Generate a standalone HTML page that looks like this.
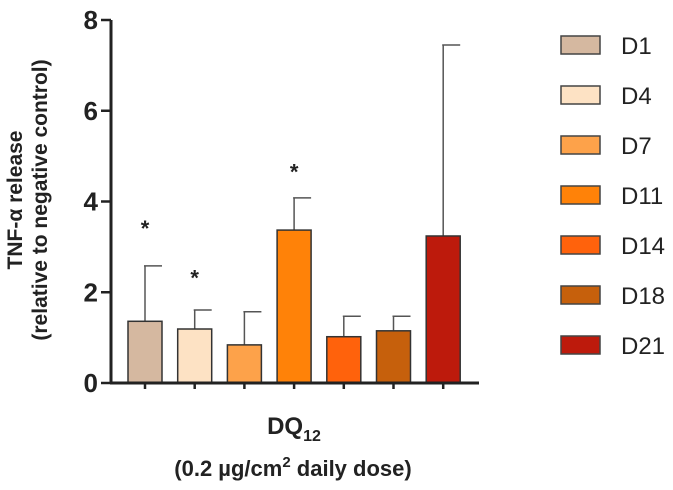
<!DOCTYPE html>
<html><head><meta charset="utf-8"><style>
html,body{margin:0;padding:0;background:#fff;}
svg{display:block;font-family:"Liberation Sans",Arial,sans-serif;}
</style></head><body>
<svg id="chart" width="673" height="490" viewBox="0 0 673 490">
  <text transform="translate(22,200) rotate(-90)" text-anchor="middle" font-size="21" font-weight="bold" fill="#222">TNF-α release</text>
  <text transform="translate(47,200) rotate(-90)" text-anchor="middle" font-size="21" font-weight="bold" fill="#222">(relative to negative control)</text>
  <text x="294" y="434" text-anchor="middle" font-size="24" font-weight="bold" fill="#222">DQ<tspan font-size="16" dy="7">12</tspan></text>
  <text x="293" y="476" text-anchor="middle" font-size="22" font-weight="bold" fill="#222">(0.2 µg/cm<tspan font-size="15" dy="-9">2</tspan><tspan dy="9"> daily dose)</tspan></text>
</svg>
<script>
const categories = ["D1","D4","D7","D11","D14","D18","D21"];
const means = [1.36, 1.19, 0.84, 3.37, 1.02, 1.15, 3.24];
const errUpper = [2.58, 1.61, 1.57, 4.08, 1.47, 1.47, 7.45];
const significant = [true, true, false, true, false, false, false];
const starValues = [3.46, 2.37, 0, 4.7, 0, 0, 0];
const colors = ["#d5b8a0","#fde2c4","#fda24a","#ff8208","#ff620c","#c6600c","#bd1a0c"];
const yTicks = [0, 2, 4, 6, 8];

const NS = "http://www.w3.org/2000/svg";
const svg = document.getElementById("chart");
const X0 = 111, Y0 = 383, YTOP = 20, YMAX = 8;
const y = v => Y0 - (v / YMAX) * (Y0 - YTOP);
const xc = i => 145 + i * 49.7;
const BW = 34;
function mk(tag, attrs) { const e = document.createElementNS(NS, tag); for (const k in attrs) e.setAttribute(k, attrs[k]); svg.appendChild(e); return e; }

categories.forEach((c, i) => {
  const cx = xc(i);
  const eb = mk("line", {x1: cx, x2: cx, y1: y(means[i]), y2: y(errUpper[i]), stroke: "#555", "stroke-width": 1.5});
  
  
  const cap = mk("line", {x1: cx - 1, x2: cx + 17, y1: y(errUpper[i]), y2: y(errUpper[i]), stroke: "#555", "stroke-width": 1.5});
  
  
  const r = mk("rect", {x: cx - BW / 2, y: y(means[i]), width: BW, height: Y0 - y(means[i]), fill: colors[i], stroke: "#333", "stroke-width": 1.5});
  
  
  const t = mk("line", {x1: cx, x2: cx, y1: Y0, y2: Y0 + 6, stroke: "#222", "stroke-width": 2.5});
  
  
  if (significant[i]) {
    const s = mk("text", {x: cx, y: y(starValues[i]) + 10, "text-anchor": "middle", "font-size": 22, "font-weight": "bold", fill: "#222"});
    s.textContent = "*";
    
    
  }
  const ly = 45 + i * 50;
  const lb = mk("rect", {x: 561, y: ly - 9, width: 39, height: 18, fill: colors[i], stroke: "#444", "stroke-width": 1.5});
  
  
  const lt = mk("text", {x: 621, y: ly + 9, "font-size": 24, fill: "#222"});
  lt.textContent = c;
  
  
});

const ya = mk("line", {x1: X0, x2: X0, y1: YTOP, y2: Y0 + 1, stroke: "#222", "stroke-width": 3});


const xa = mk("line", {x1: X0 - 1, x2: 479, y1: Y0, y2: Y0, stroke: "#222", "stroke-width": 3});


yTicks.forEach(v => {
  const tk = mk("line", {x1: X0 - 10, x2: X0, y1: y(v), y2: y(v), stroke: "#222", "stroke-width": 2.5});
  
  
  const tl = mk("text", {x: X0 - 13, y: y(v) + 9, "text-anchor": "end", "font-size": 26, "font-weight": "bold", fill: "#222"});
  tl.textContent = v;
  
  
});
</script>
</body></html>
